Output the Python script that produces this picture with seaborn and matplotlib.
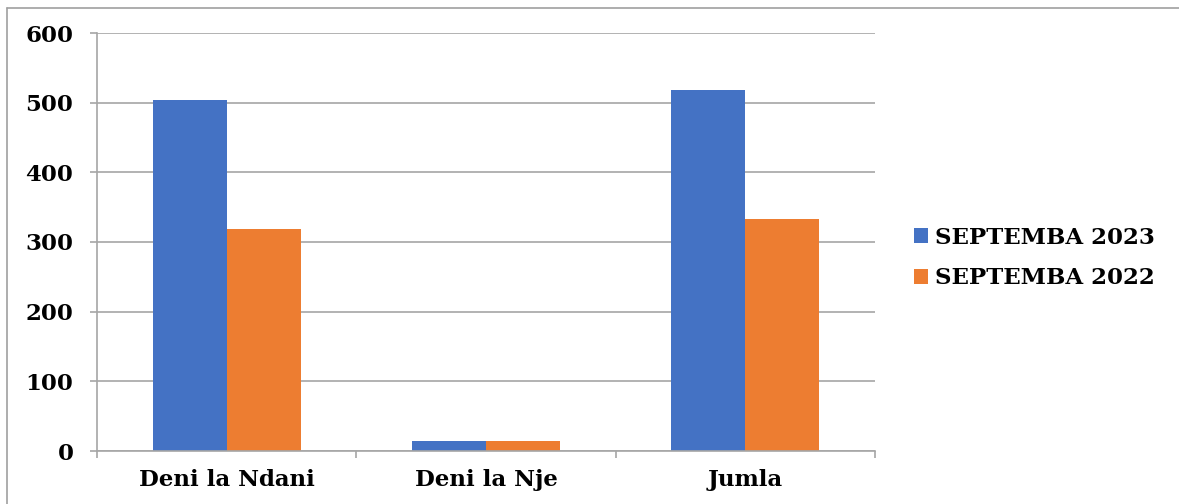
import matplotlib
matplotlib.use("Agg")
import matplotlib.pyplot as plt
import seaborn as sns
import pandas as pd
from matplotlib.lines import Line2D

categories = ["Deni la Ndani", "Deni la Nje", "Jumla"]
series_names = ["SEPTEMBA 2023", "SEPTEMBA 2022"]
values_2023 = [504, 14, 518]
values_2022 = [319, 14, 333]
y_ticks = [0, 100, 200, 300, 400, 500, 600]
colors = ["#4472C4", "#ED7D31"]

df = pd.DataFrame({
    "Category": categories * 2,
    "Series": [series_names[0]] * len(categories) + [series_names[1]] * len(categories),
    "Value": values_2023 + values_2022,
})

sns.set_theme(style="white")
plt.rcParams['font.family'] = ['DejaVu Serif']
plt.rcParams['font.weight'] = 'bold'
plt.rcParams['text.color'] = 'black'
plt.rcParams['xtick.labelcolor'] = 'black'
plt.rcParams['ytick.labelcolor'] = 'black'

W, H = 1179, 504
fig = plt.figure(figsize=(W / 100, H / 100), dpi=100)
ax = fig.add_axes([97 / W, 1 - 451 / H, (875 - 97) / W, (451 - 33) / H])

sns.barplot(data=df, x="Category", y="Value", hue="Series", palette=colors,
            width=0.57, saturation=1, edgecolor="none", gap=0, ax=ax)

grid_c = "#A6A6A6"
fs = 16.5
ax.set_ylim(0, 600)
ax.set_xlim(-0.5, len(categories) - 0.5)
ax.set_yticks(y_ticks)
ax.set_yticklabels([str(t) for t in y_ticks], fontsize=fs, fontweight='bold', color='black')
ax.yaxis.grid(True, color=grid_c, linewidth=1.2)
ax.set_axisbelow(True)
ax.set_xlabel("")
ax.set_ylabel("")
ax.set_xticks(range(len(categories)))
ax.set_xticklabels(categories, fontsize=fs, fontweight='bold', color='black')
ax.set_xticks([i - 0.5 for i in range(len(categories) + 1)], minor=True)
ax.tick_params(axis='x', which='major', length=0, pad=13)
ax.tick_params(axis='x', which='minor', length=5, color=grid_c, width=1.2, direction='out', bottom=True)
ax.tick_params(axis='y', length=5, color=grid_c, width=1.2, left=True, pad=12)
for s in ['top', 'right']:
    ax.spines[s].set_visible(False)
for s in ['left', 'bottom']:
    ax.spines[s].set_color(grid_c)
    ax.spines[s].set_linewidth(1.2)

leg = ax.legend(loc="center left", bbox_to_anchor=(914 / W, 1 - 258 / H), bbox_transform=fig.transFigure,
                frameon=False, borderaxespad=0, borderpad=0, handlelength=0.6, handleheight=0.6,
                handletextpad=0.3, labelspacing=0.82, prop={'size': fs, 'weight': 'bold'})
for t in leg.get_texts():
    t.set_color('black')

fig.add_artist(Line2D([7 / W, 1.0], [1 - 8 / H, 1 - 8 / H], transform=fig.transFigure, color="#A0A0A0", lw=1.2))
fig.add_artist(Line2D([7 / W, 7 / W], [0, 1 - 8 / H], transform=fig.transFigure, color="#A0A0A0", lw=1.2))

fig.savefig("out.png", dpi=100)
